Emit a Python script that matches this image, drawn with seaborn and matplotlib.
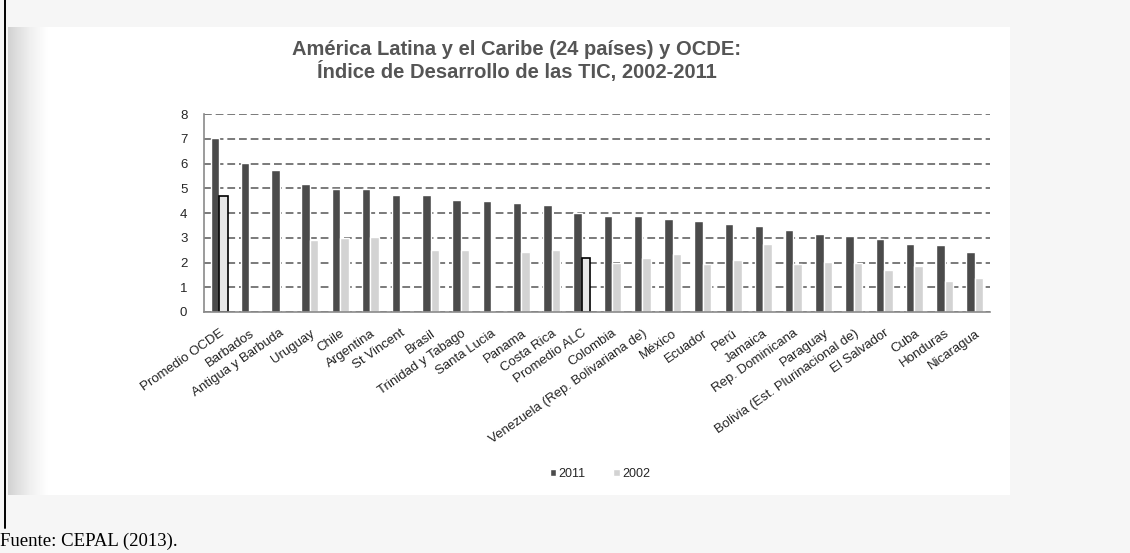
import numpy as np
import pandas as pd
import matplotlib
matplotlib.use("Agg")
import matplotlib.pyplot as plt
from matplotlib.patches import Rectangle
from matplotlib.lines import Line2D
import seaborn as sns

# ---------------------------------------------------------------
# Data
# ---------------------------------------------------------------
paises = ["Promedio OCDE", "Barbados", "Antigua y Barbuda", "Uruguay", "Chile",
          "Argentina", "St Vincent", "Brasil", "Trinidad y Tabago", "Santa Lucia",
          "Panama", "Costa Rica", "Promedio ALC", "Colombia",
          "Venezuela (Rep. Bolivariana de)", "México", "Ecuador", "Perú", "Jamaica",
          "Rep. Dominicana", "Paraguay", "Bolivia (Est. Plurinacional de)",
          "El Salvador", "Cuba", "Honduras", "Nicaragua"]
idi_2011 = [7.03, 6.04, 5.72, 5.18, 4.98, 4.98, 4.71, 4.71, 4.52, 4.48, 4.39, 4.32,
            4.02, 3.89, 3.89, 3.75, 3.66, 3.55, 3.46, 3.32, 3.15, 3.08, 2.96, 2.76,
            2.69, 2.42]
idi_2002 = [4.70, np.nan, np.nan, 2.92, 2.99, 3.05, np.nan, 2.49, 2.49, np.nan, 2.41,
            2.52, 2.19, 1.98, 2.18, 2.34, 1.95, 2.12, 2.76, 1.95, 2.04, 1.98, 1.71,
            1.87, 1.24, 1.37]
anios = ["2011", "2002"]
promedios = ["Promedio OCDE", "Promedio ALC"]

df = pd.DataFrame({
    "pais": paises * 2,
    "anio": ["2011"] * len(paises) + ["2002"] * len(paises),
    "idi": idi_2011 + idi_2002,
})

# ---------------------------------------------------------------
# Figure
# ---------------------------------------------------------------
sns.set_style("white")
plt.rcParams["font.family"] = ["Liberation Sans", "DejaVu Sans"]

fig = plt.figure(figsize=(11.3, 5.53), dpi=100)

# page decoration: grey margins, left shadow, black left rule
fig.add_artist(Rectangle((0, 0), 1, 1, transform=fig.transFigure,
                         facecolor="#f6f6f6", edgecolor="none", zorder=-10))
fig.add_artist(Rectangle((25 / 1130, 1 - 495 / 553), 985 / 1130, 468 / 553,
                         transform=fig.transFigure, facecolor="white",
                         edgecolor="none", zorder=-9))
grad = np.linspace(0, 1, 64)[None, :]
shadow_ax = fig.add_axes([8 / 1130, 1 - 495 / 553, 40 / 1130, 468 / 553], zorder=-8)
shadow_ax.imshow(grad, cmap="Greys_r", vmin=-2.5, vmax=1, aspect="auto")
shadow_ax.axis("off")
fig.add_artist(Line2D([5 / 1130, 5 / 1130], [1, 1 - 528 / 553],
                      transform=fig.transFigure, color="black", lw=1.4))

ax = fig.add_axes([204 / 1130, 1 - 312 / 553, 786 / 1130, 198 / 553])
sns.barplot(data=df, x="pais", y="idi", hue="anio", order=paises, hue_order=anios,
            palette={"2011": "#4b4b4b", "2002": "#d3d3d3"}, width=0.56,
            saturation=1, ax=ax, legend=False)

# outlined bars for the 2002 averages (NaN bars are skipped, so match by position)
prom_idx = [paises.index(p) for p in promedios]
for patch in ax.containers[1]:
    center = patch.get_x() + patch.get_width() / 2
    if any(abs(center - (i + 0.14)) < 0.3 for i in prom_idx):
        patch.set_facecolor("#e6e6e6")
        patch.set_edgecolor("black")
        patch.set_linewidth(1.2)

ax.set_ylim(0, 8)
ax.set_yticks(range(0, 9))
ax.set_xlim(-0.5, len(paises) - 0.5)
ax.set_xlabel("")
ax.set_ylabel("")
ax.set_axisbelow(True)
ax.yaxis.grid(True, color="#7a7a7a", linestyle=(0, (4, 2)), linewidth=1.4)

for side in ["top", "right"]:
    ax.spines[side].set_visible(False)
for side in ["left", "bottom"]:
    ax.spines[side].set_color("#8a8a8a")
    ax.spines[side].set_linewidth(1.2)

ax.set_xticks(np.arange(-0.5, len(paises), 1), minor=True)
ax.tick_params(axis="x", which="major", length=0, pad=11)
ax.tick_params(axis="x", which="minor", length=4, color="#8a8a8a", width=1.2,
               direction="out")
ax.tick_params(axis="y", length=6, direction="inout", color="#8a8a8a", width=1.2,
               labelsize=9.5, pad=9)
ax.set_xticks(range(len(paises)))
ax.set_xticklabels(paises, rotation=35, ha="right", rotation_mode="anchor",
                   fontsize=9.5, color="#222222")

fig.text(517 / 1130, 1 - 61 / 553,
         "América Latina y el Caribe (24 países) y OCDE:\n"
         "Índice de Desarrollo de las TIC, 2002-2011",
         ha="center", va="center", fontsize=14.5, fontweight="bold",
         color="#555555", linespacing=1.1)

handles = [Rectangle((0, 0), 1, 1, facecolor="#4b4b4b"),
           Rectangle((0, 0), 1, 1, facecolor="#d3d3d3")]
fig.legend(handles, anios, loc="center", bbox_to_anchor=(600 / 1130, 1 - 474 / 553),
           ncol=2, frameon=False, fontsize=9, handlelength=0.5, handleheight=0.5,
           handletextpad=0.2, columnspacing=2.2)

fig.text(0.0, 1 - 541 / 553, "Fuente: CEPAL (2013).", ha="left", va="center",
         fontsize=13.5, family=["Liberation Serif", "DejaVu Serif"], color="black")

fig.savefig("out.png", dpi=100)
plt.close(fig)
